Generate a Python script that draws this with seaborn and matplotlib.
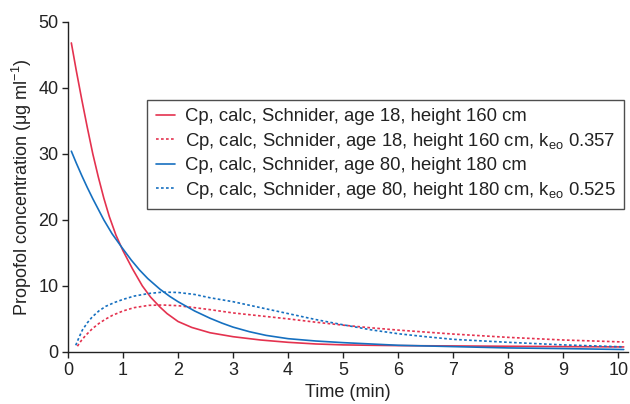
import matplotlib
matplotlib.use("Agg")
import matplotlib.pyplot as plt
import pandas as pd
import seaborn as sns

# values (time in min, concentration in ug/ml)
t_cp18 = [0.06, 0.15, 0.25, 0.35, 0.45, 0.55, 0.65, 0.75, 0.87, 1.0, 1.17, 1.35,
          1.5, 1.67, 1.8, 2.0, 2.25, 2.58, 3.0, 3.5, 4.0, 4.5, 5.0, 5.5, 6.0,
          7.0, 8.0, 9.0, 10.1]
cp18 = [46.8, 42.6, 38.2, 34.0, 30.0, 26.5, 23.3, 20.5, 17.7, 15.3, 12.6, 10.0,
        8.3, 6.8, 5.8, 4.6, 3.7, 2.9, 2.3, 1.8, 1.45, 1.2, 1.06, 1.0, 0.95,
        0.9, 0.85, 0.8, 0.75]

t_cp80 = [0.06, 0.15, 0.25, 0.35, 0.45, 0.55, 0.65, 0.8, 0.98, 1.15, 1.3, 1.45,
          1.67, 1.85, 2.0, 2.3, 2.58, 2.8, 3.0, 3.3, 3.6, 4.0, 4.5, 5.0, 5.5,
          6.0, 7.0, 8.0, 9.0, 10.1]
cp80 = [30.4, 28.6, 26.7, 24.9, 23.2, 21.6, 20.0, 17.9, 15.8, 13.9, 12.4, 11.1,
        9.5, 8.4, 7.6, 6.2, 5.1, 4.35, 3.75, 3.05, 2.5, 2.0, 1.65, 1.4, 1.2,
        1.0, 0.8, 0.6, 0.5, 0.36]

t_ce18 = [0.17, 0.24, 0.32, 0.44, 0.56, 0.68, 0.81, 1.0, 1.2, 1.47, 1.72, 2.0,
          2.3, 2.58, 3.0, 3.5, 4.0, 4.5, 5.0, 5.5, 6.0, 7.0, 8.0, 9.0, 10.1]
ce18 = [0.86, 1.7, 2.5, 3.5, 4.3, 4.95, 5.55, 6.2, 6.7, 7.05, 7.1, 7.0,
        6.7, 6.4, 5.9, 5.45, 5.0, 4.5, 4.05, 3.65, 3.3, 2.7, 2.2, 1.8, 1.5]

t_ce80 = [0.14, 0.2, 0.26, 0.35, 0.44, 0.56, 0.685, 0.85, 1.0, 1.2, 1.47, 1.72,
          2.0, 2.3, 2.58, 3.0, 3.5, 4.0, 4.5, 5.0, 5.5, 6.0, 6.5, 7.0, 8.0, 9.0,
          10.1]
ce80 = [1.0, 2.2, 3.3, 4.4, 5.3, 6.2, 6.9, 7.5, 7.95, 8.45, 8.85, 9.05,
        9.0, 8.7, 8.2, 7.6, 6.7, 5.8, 4.9, 4.1, 3.35, 2.75, 2.3, 1.9, 1.45, 1.06,
        0.76]

labels = [
    "Cp, calc, Schnider, age 18, height 160 cm",
    r"Cp, calc, Schnider, age 18, height 160 cm, k$_\mathregular{eo}$ 0.357",
    "Cp, calc, Schnider, age 80, height 180 cm",
    r"Cp, calc, Schnider, age 80, height 180 cm, k$_\mathregular{eo}$ 0.525",
]

red = "#e4324f"
blue = "#1670c0"
dots = (0, (1.6, 1.4))
ink = "#222222"

sns.set_style("ticks")
plt.rcParams["font.family"] = ["Liberation Sans", "DejaVu Sans"]
plt.rcParams["mathtext.default"] = "regular"

fig = plt.figure(figsize=(6.3, 4.04), dpi=100)
ax = fig.add_axes([0.108, 0.129, 0.889, 0.817])

series = [
    (t_cp18, cp18, red, "-"),
    (t_ce18, ce18, red, dots),
    (t_cp80, cp80, blue, "-"),
    (t_ce80, ce80, blue, dots),
]
for (tt, cc, col, ls), lab in zip(series, labels):
    df = pd.DataFrame({"time": tt, "conc": cc})
    sns.lineplot(data=df, x="time", y="conc", color=col, linestyle=ls,
                 linewidth=1.2, label=lab, ax=ax)

ax.set_xlim(0, 10.18)
ax.set_ylim(0, 50)
ax.set_xticks(range(0, 11))
ax.set_yticks(range(0, 51, 10))
ax.tick_params(axis="both", labelsize=13, length=4, width=1, color=ink,
               labelcolor=ink, pad=3)
for s in ["left", "bottom"]:
    ax.spines[s].set_color(ink)
    ax.spines[s].set_linewidth(1)
sns.despine(ax=ax)

ax.set_xlabel("Time (min)", fontsize=13, color=ink, labelpad=4)
ax.set_ylabel(r"Propofol concentration (μg ml$^{-1}$)", fontsize=13,
              color=ink, labelpad=3)

leg = ax.legend(loc="upper right", bbox_to_anchor=(0.993, 0.764), borderaxespad=0,
                fontsize=13.3, frameon=True, fancybox=False, edgecolor=ink,
                handlelength=1.05, handletextpad=0.55, labelspacing=0.3,
                borderpad=0.45)
leg.get_frame().set_linewidth(1)
for txt in leg.get_texts():
    txt.set_color(ink)

fig.savefig("out.png", dpi=100)
